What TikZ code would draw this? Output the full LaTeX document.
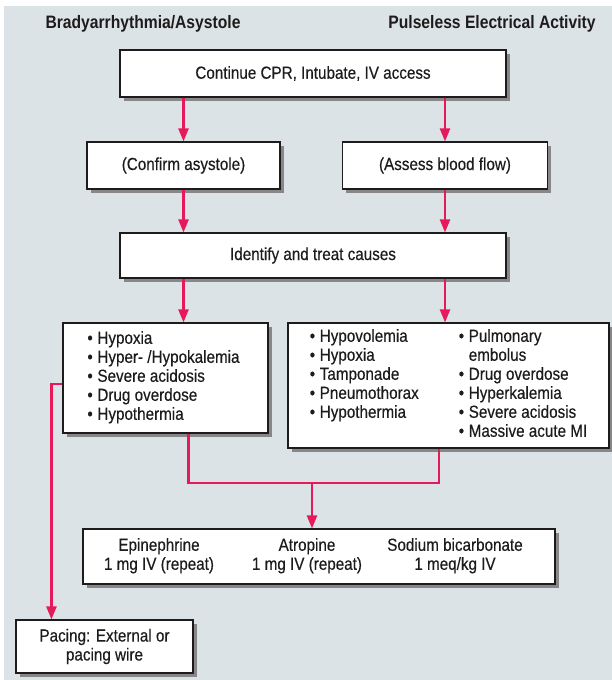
\documentclass[tikz,border=0pt]{standalone}
\usepackage{fontspec}
\setmainfont{Liberation Sans}[FakeStretch=0.87, UprightFeatures={FakeBold=0.35}]
\usepackage{array}
\usetikzlibrary{arrows.meta,calc,shadows}
\definecolor{bgc}{RGB}{220,227,231}
\definecolor{arrc}{RGB}{230,25,90}
\definecolor{shc}{RGB}{135,135,135}
\definecolor{txc}{RGB}{30,27,28}
\newcommand\bl{\makebox[10pt][l]{\textbullet}}
\newcolumntype{C}{>{\centering\arraybackslash}p{148pt}}
\begin{document}
\begin{tikzpicture}[x=1pt,y=-1pt,
  box/.style={draw=txc, line width=1.1pt, fill=white, inner sep=0pt, text=txc,
    font=\fontsize{17.5}{19}\selectfont,
    general shadow={fill=shc, shadow xshift=3.5pt, shadow yshift=-3.5pt}},
  ttl/.style={font=\fontsize{18}{20}\selectfont\bfseries, text=txc},
  arr/.style={draw=arrc, line width=2.3pt, -{Triangle[length=13pt,width=10pt]}},
  lin/.style={draw=arrc, line width=2.3pt},
]
\useasboundingbox (0,0) rectangle (612,680);
\fill[bgc] (4,6) rectangle (612,680);

\node[ttl] (tA) at (143,24) {Bradyarrhythmia/Asystole};
\node[ttl] (tB) at (492,24) {Pulseless Electrical Activity};

\node[box, minimum width=386pt, minimum height=47pt] (b1) at (313,73.5) {Continue CPR, Intubate, IV access};
\node[box, minimum width=193pt, minimum height=47pt] (b2L) at (183.5,165.5) {(Confirm asystole)};
\node[box, minimum width=205pt, minimum height=47pt] (b2R) at (445,165.5) {(Assess blood flow)};
\node[box, minimum width=386pt, minimum height=45pt] (b3) at (313,255.5) {Identify and treat causes};

\node[box, minimum width=205pt, minimum height=110pt] (b4L) at (165.5,378)
  {\begin{tabular}{@{}l@{}}\bl Hypoxia\\\bl Hyper- /Hypokalemia\\\bl Severe acidosis\\\bl Drug overdose\\\bl Hypothermia\end{tabular}\makebox[4pt]{}};

\node[box, minimum width=321pt, minimum height=125pt] (b4R) at (448.5,385.5)
  {\makebox[149pt][l]{\begin{tabular}[t]{@{}l@{}}\bl Hypovolemia\\\bl Hypoxia\\\bl Tamponade\\\bl Pneumothorax\\\bl Hypothermia\end{tabular}}%
   \begin{tabular}[t]{@{}l@{}}\bl Pulmonary\\\makebox[10pt]{}embolus\\\bl Drug overdose\\\bl Hyperkalemia\\\bl Severe acidosis\\\bl Massive acute MI\end{tabular}};

\node[box, minimum width=472pt, minimum height=55pt] (b5) at (319,556.5)
  {\begin{tabular}{@{}C@{}C@{}C@{}}Epinephrine & Atropine & Sodium bicarbonate\\1 mg IV (repeat) & 1 mg IV (repeat) & 1 meq/kg IV\end{tabular}\makebox[24pt]{}};

\node[box, minimum width=177pt, minimum height=53pt, align=center] (b6) at (104.5,646.5)
  {Pacing: External or\\pacing wire};

% connectors
\draw[arr] (b1.south -| b2L.north) -- (b2L.north);
\draw[arr] (b1.south -| b2R.north) -- (b2R.north);
\draw[arr] (b2L.south) -- (b3.north -| b2L.south);
\draw[arr] (b2R.south) -- (b3.north -| b2R.south);
\draw[arr] (b3.south -| b2L.south) -- (b4L.north -| b2L.south);
\draw[arr] (b3.south -| b2R.south) -- (b4R.north -| b2R.south);

\coordinate (jL) at ($(b4L.south east)+(-80,0)$);
\coordinate (jR) at ($(b4R.south)+(-9.5,0)$);
\coordinate (j) at (312,483);
\draw[lin] (jL) |- (j) -| (jR);
\draw[arr] (j) -- (j |- b5.north);

\coordinate (pL) at ($(b4L.west)+(0,6)$);
\coordinate (pB) at ($(b6.north west)+(36,0)$);
\draw[arr] (pL) -| (pB);
\end{tikzpicture}
\end{document}
